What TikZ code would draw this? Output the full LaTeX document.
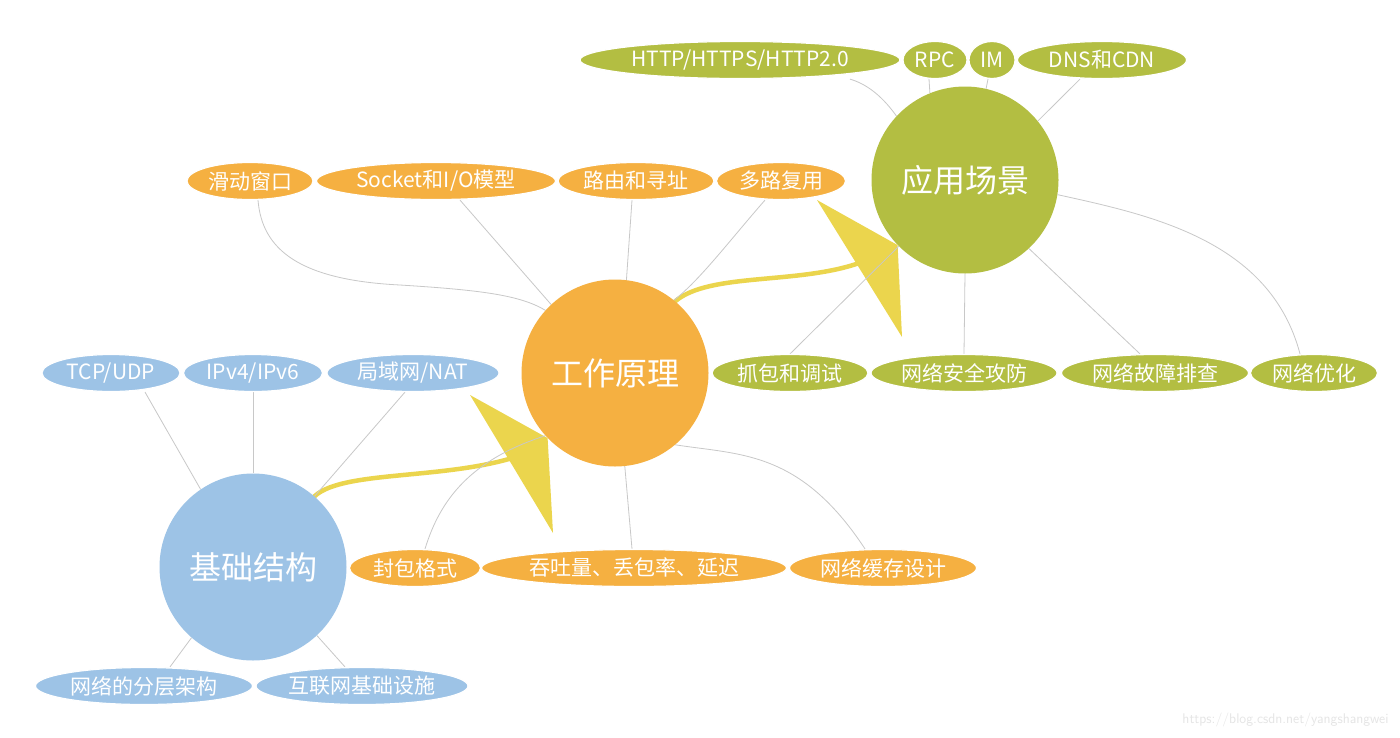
\documentclass[tikz,border=0pt]{standalone}
\usepackage{fontspec}
\newfontfamily\cjk{Noto Sans CJK SC}
\usetikzlibrary{shapes.geometric,calc}
\definecolor{cgreen}{RGB}{179,190,66}
\definecolor{corange}{RGB}{245,176,65}
\definecolor{cblue}{RGB}{157,195,230}
\definecolor{cyel}{RGB}{235,213,77}
\definecolor{clink}{RGB}{200,200,200}
\pgfdeclarelayer{bg}
\pgfdeclarelayer{mid}
\pgfsetlayers{bg,mid,main}
\tikzset{
  leaf/.style={ellipse, draw=white, line width=1.2pt, text=white, inner sep=0pt,
    minimum height=37pt, font=\cjk\fontsize{21}{21}\selectfont},
  gl/.style={leaf, fill=cgreen},
  ol/.style={leaf, fill=corange},
  bl/.style={leaf, fill=cblue},
  hub/.style={circle, minimum size=187pt, inner sep=0pt, text=white,
    font=\cjk\fontsize{32}{32}\selectfont},
  link/.style={draw=clink, line width=0.8pt},
  shaft/.style={draw=cyel, line width=4.5pt, line cap=round},
  head/.style={fill=cyel},
}
\begin{document}
\begin{tikzpicture}[x=1pt,y=-1pt]
\useasboundingbox (0,0) rectangle (1400,737);
\begin{pgfonlayer}{bg}
\fill[white] (0,0) rectangle (1400,737);
\end{pgfonlayer}
% hubs
\node[hub, fill=cgreen] (app) at (965,180) {应用场景};
\node[hub, fill=corange] (work) at (615,373) {工作原理};
\node[hub, fill=cblue] (base) at (253,567) {基础结构};
% green leaves
\node[gl, minimum width=320pt] (http) at (740,60) {HTTP/HTTPS/HTTP2.0};
\node[gl, minimum width=64pt] (rpc) at (935,60) {RPC};
\node[gl, minimum width=46pt] (im) at (992,60) {IM};
\node[gl, minimum width=169pt] (dns) at (1102,60) {DNS和CDN};
\node[gl, minimum width=156pt] (cap) at (790,373) {抓包和调试};
\node[gl, minimum width=186pt] (sec) at (964,373) {网络安全攻防};
\node[gl, minimum width=187pt] (fault) at (1155,373) {网络故障排查};
\node[gl, minimum width=127pt] (opt) at (1314,373) {网络优化};
% orange leaves
\node[ol, minimum width=126pt] (win) at (250,181) {滑动窗口};
\node[ol, minimum width=239pt] (sock) at (436,181) {Socket和I/O模型};
\node[ol, minimum width=156pt] (route) at (636,181) {路由和寻址};
\node[ol, minimum width=129pt] (mux) at (781,181) {多路复用};
\node[ol, minimum width=131pt] (pkt) at (415,568) {封包格式};
\node[ol, minimum width=305pt] (thr) at (634,568) {吞吐量、丢包率、延迟};
\node[ol, minimum width=187pt] (cache) at (883,568) {网络缓存设计};
% blue leaves
\node[bl, minimum width=138pt] (tcp) at (111,373) {TCP/UDP};
\node[bl, minimum width=139pt] (ip) at (253,373) {IPv4/IPv6};
\node[bl, minimum width=172pt] (lan) at (413,373) {局域网/NAT};
\node[bl, minimum width=217pt] (layer) at (144,686) {网络的分层架构};
\node[bl, minimum width=212pt] (infra) at (362,686) {互联网基础设施};
% yellow arrows
\begin{pgfonlayer}{bg}
\fill[head] (470,395) -- (work.224) -- (553,533) -- cycle;
\draw[shaft] (base.49) .. controls (345,468) and (460,482) .. (535,450);
\fill[head] (817,200) -- (app.224) -- (902,337) -- cycle;
\draw[shaft] (work.50) .. controls (710,272) and (800,285) .. (862,262);
\end{pgfonlayer}
% connectors
\begin{pgfonlayer}{mid}
\draw[link] (win.south) ++(8,0) .. controls (262,250) and (300,280) .. (400,285) .. controls (480,290) and (520,295) .. (work.138);
\draw[link] (sock.south) ++(24,0) -- (work.133);
\draw[link] (route.south) ++(-4,0) -- (work.83);
\draw[link] (mux.south) ++(-16,0) .. controls (730,240) and (700,280) .. (work.51);
\draw[link] (pkt.north) ++(10,0) .. controls (440,500) and (470,460) .. (work.222);
\draw[link] (thr.north) ++(-2,0) -- (work.276);
\draw[link] (work.310) .. controls (740,455) and (800,450) .. ($(cache.north)+(-18,0)$);
\draw[link] (http.south) ++(110,0) .. controls (870,85) and (885,100) .. (app.137);
\draw[link] (rpc.south) ++(-6,0) -- (app.112);
\draw[link] (im.south) ++(-4,0) -- (app.77);
\draw[link] (dns.south) ++(-22,0) -- (app.39);
\draw[link] (cap.north) -- (app.225);
\draw[link] (sec.north) -- (app.270);
\draw[link] (fault.north) ++(-15,0) -- (app.313);
\draw[link] (app.351) .. controls (1150,215) and (1270,240) .. ($(opt.north)+(-14,0)$);
\draw[link] (tcp.south) ++(34,0) -- (base.124);
\draw[link] (ip.south) -- (base.90);
\draw[link] (lan.south) ++(-8,0) -- (base.49);
\draw[link] (layer.north) ++(26,0) -- (base.229);
\draw[link] (infra.north) ++(-17,0) -- (base.313);
\end{pgfonlayer}
\node[text=black!10, font=\fontsize{14}{14}\selectfont\sffamily, anchor=east] (wm) at (1392,720) {https://blog.csdn.net/yangshangwei};
\end{tikzpicture}
\end{document}
